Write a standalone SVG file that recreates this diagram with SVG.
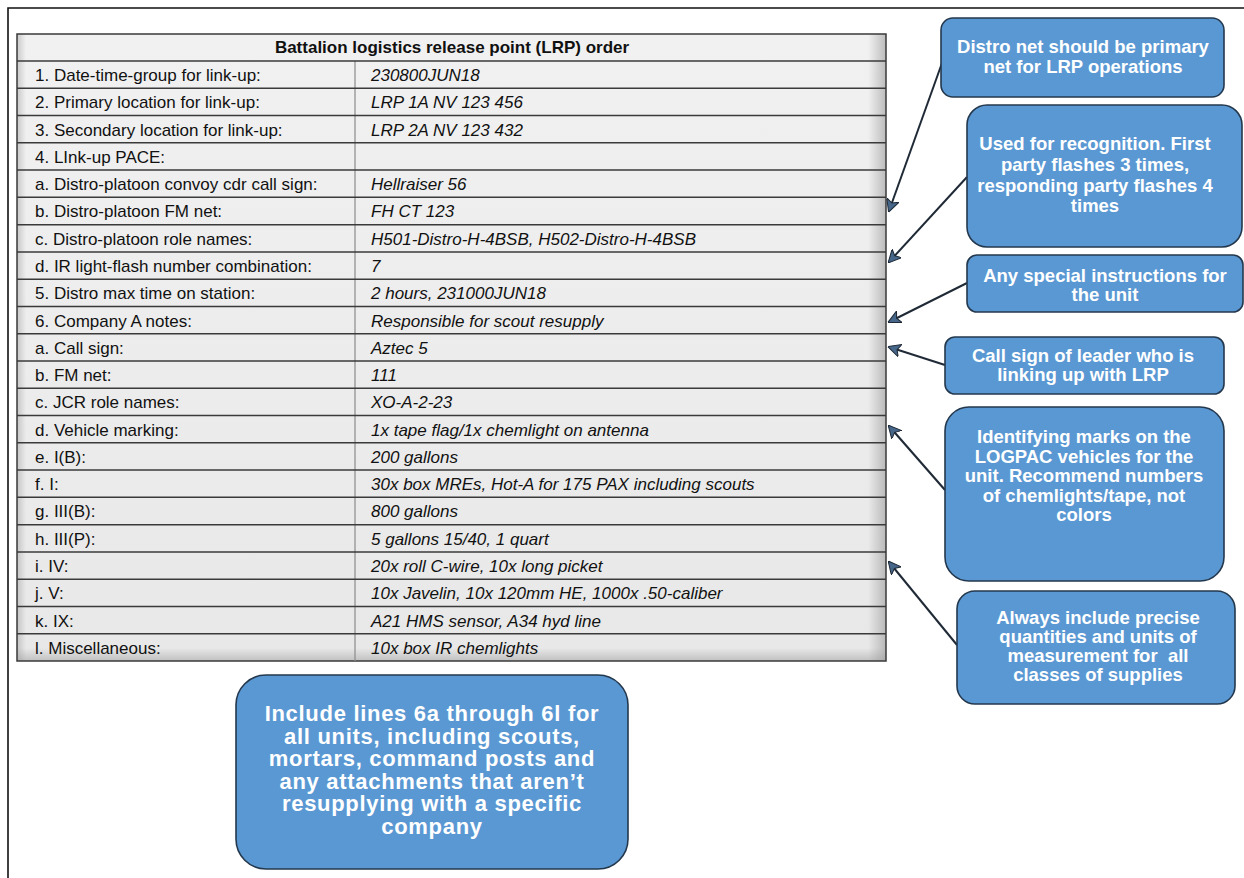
<svg xmlns="http://www.w3.org/2000/svg" width="1244" height="878" viewBox="0 0 1244 878">
<defs>
<style>
.lbl{font-family:"Liberation Sans",Arial,sans-serif;font-size:17px;fill:#111}
.val{font-family:"Liberation Sans",Arial,sans-serif;font-size:17px;font-style:italic;fill:#111}
.hdr{font-family:"Liberation Sans",Arial,sans-serif;font-size:17px;font-weight:bold;fill:#111}
.rl{stroke:#3a3a3a;stroke-width:1.5}
.box{fill:#5a98d3;stroke:#24384d;stroke-width:1.6}
.ct{font-family:"Liberation Sans",Arial,sans-serif;font-size:18.5px;font-weight:bold;fill:#fff;text-anchor:middle}
.bt{font-family:"Liberation Sans",Arial,sans-serif;font-size:22px;letter-spacing:0.7px;font-weight:bold;fill:#fff;text-anchor:middle}
.arr{stroke:#1f2a36;stroke-width:2;fill:none;marker-end:url(#ah)}
</style>
<marker id="ah" viewBox="0 0 10 10" refX="9" refY="5" markerWidth="6.5" markerHeight="6.5" orient="auto" markerUnits="strokeWidth">
<path d="M0,0 L10,5 L0,10 L2.5,5 Z" fill="#46678a" stroke="#1f2a36" stroke-width="0.8"/>
</marker>
<linearGradient id="tg" x1="0" y1="0" x2="0" y2="1">
<stop offset="0" stop-color="#f1f1f1"/>
<stop offset="1" stop-color="#e8e8e8"/>
</linearGradient>
<linearGradient id="sr" x1="0" y1="0" x2="1" y2="0">
<stop offset="0" stop-color="#999" stop-opacity="0"/>
<stop offset="1" stop-color="#999" stop-opacity="0.6"/>
</linearGradient>
<linearGradient id="sl" x1="1" y1="0" x2="0" y2="0">
<stop offset="0" stop-color="#999" stop-opacity="0"/>
<stop offset="1" stop-color="#999" stop-opacity="0.45"/>
</linearGradient>
<linearGradient id="sb" x1="0" y1="0" x2="0" y2="1">
<stop offset="0" stop-color="#999" stop-opacity="0"/>
<stop offset="1" stop-color="#999" stop-opacity="0.5"/>
</linearGradient>
</defs>
<rect width="1244" height="878" fill="#fff"/>
<g id="frame"><path d="M8,878 L8,8 L1244,8" fill="none" stroke="#111" stroke-width="1.6"/></g>
<g id="table">
<rect x="17" y="34" width="869" height="627" fill="url(#tg)"/>
<rect x="868" y="34" width="18" height="627" fill="url(#sr)"/>
<rect x="17" y="34" width="9" height="627" fill="url(#sl)"/>
<rect x="17" y="648" width="869" height="13" fill="url(#sb)"/>
<rect x="17" y="34" width="869" height="627" fill="none" stroke="#3a3a3a" stroke-width="1.5"/>
<line x1="355" y1="61" x2="355" y2="661" stroke="#8a8a8a" stroke-width="1.2"/>
<g class="rl">
<line x1="17" y1="61" x2="886" y2="61"/>
<line x1="17" y1="88.27" x2="886" y2="88.27"/>
<line x1="17" y1="115.55" x2="886" y2="115.55"/>
<line x1="17" y1="142.82" x2="886" y2="142.82"/>
<line x1="17" y1="170.09" x2="886" y2="170.09"/>
<line x1="17" y1="197.36" x2="886" y2="197.36"/>
<line x1="17" y1="224.64" x2="886" y2="224.64"/>
<line x1="17" y1="251.91" x2="886" y2="251.91"/>
<line x1="17" y1="279.18" x2="886" y2="279.18"/>
<line x1="17" y1="306.45" x2="886" y2="306.45"/>
<line x1="17" y1="333.73" x2="886" y2="333.73"/>
<line x1="17" y1="361" x2="886" y2="361"/>
<line x1="17" y1="388.27" x2="886" y2="388.27"/>
<line x1="17" y1="415.55" x2="886" y2="415.55"/>
<line x1="17" y1="442.82" x2="886" y2="442.82"/>
<line x1="17" y1="470.09" x2="886" y2="470.09"/>
<line x1="17" y1="497.36" x2="886" y2="497.36"/>
<line x1="17" y1="524.64" x2="886" y2="524.64"/>
<line x1="17" y1="551.91" x2="886" y2="551.91"/>
<line x1="17" y1="579.18" x2="886" y2="579.18"/>
<line x1="17" y1="606.45" x2="886" y2="606.45"/>
<line x1="17" y1="633.73" x2="886" y2="633.73"/>
</g>
<text class="hdr" x="452" y="53" text-anchor="middle">Battalion logistics release point (LRP) order</text>
<text class="lbl" x="35" y="81">1. Date-time-group for link-up:</text>
<text class="lbl" x="35" y="108.3">2. Primary location for link-up:</text>
<text class="lbl" x="35" y="135.5">3. Secondary location for link-up:</text>
<text class="lbl" x="35" y="162.8">4. LInk-up PACE:</text>
<text class="lbl" x="35" y="190.1">a. Distro-platoon convoy cdr call sign:</text>
<text class="lbl" x="35" y="217.4">b. Distro-platoon FM net:</text>
<text class="lbl" x="35" y="244.6">c. Distro-platoon role names:</text>
<text class="lbl" x="35" y="271.9">d. IR light-flash number combination:</text>
<text class="lbl" x="35" y="299.2">5. Distro max time on station:</text>
<text class="lbl" x="35" y="326.5">6. Company A notes:</text>
<text class="lbl" x="35" y="353.7">a. Call sign:</text>
<text class="lbl" x="35" y="381">b. FM net:</text>
<text class="lbl" x="35" y="408.3">c. JCR role names:</text>
<text class="lbl" x="35" y="435.5">d. Vehicle marking:</text>
<text class="lbl" x="35" y="462.8">e. I(B):</text>
<text class="lbl" x="35" y="490.1">f. I:</text>
<text class="lbl" x="35" y="517.4">g. III(B):</text>
<text class="lbl" x="35" y="544.6">h. III(P):</text>
<text class="lbl" x="35" y="571.9">i. IV:</text>
<text class="lbl" x="35" y="599.2">j. V:</text>
<text class="lbl" x="35" y="626.5">k. IX:</text>
<text class="lbl" x="35" y="653.7">l. Miscellaneous:</text>
<text class="val" x="371" y="81">230800JUN18</text>
<text class="val" x="371" y="108.3">LRP 1A NV 123 456</text>
<text class="val" x="371" y="135.5">LRP 2A NV 123 432</text>
<text class="val" x="371" y="190.1">Hellraiser 56</text>
<text class="val" x="371" y="217.4">FH CT 123</text>
<text class="val" x="371" y="244.6">H501-Distro-H-4BSB, H502-Distro-H-4BSB</text>
<text class="val" x="371" y="271.9">7</text>
<text class="val" x="371" y="299.2">2 hours, 231000JUN18</text>
<text class="val" x="371" y="326.5">Responsible for scout resupply</text>
<text class="val" x="371" y="353.7">Aztec 5</text>
<text class="val" x="371" y="381">111</text>
<text class="val" x="371" y="408.3">XO-A-2-23</text>
<text class="val" x="371" y="435.5">1x tape flag/1x chemlight on antenna</text>
<text class="val" x="371" y="462.8">200 gallons</text>
<text class="val" x="371" y="490.1">30x box MREs, Hot-A for 175 PAX including scouts</text>
<text class="val" x="371" y="517.4">800 gallons</text>
<text class="val" x="371" y="544.6">5 gallons 15/40, 1 quart</text>
<text class="val" x="371" y="571.9">20x roll C-wire, 10x long picket</text>
<text class="val" x="371" y="599.2">10x Javelin, 10x 120mm HE, 1000x .50-caliber</text>
<text class="val" x="371" y="626.5">A21 HMS sensor, A34 hyd line</text>
<text class="val" x="371" y="653.7">10x box IR chemlights</text>
</g>
<g id="connectors">
<line class="arr" x1="942" y1="63" x2="889" y2="211"/>
<line class="arr" x1="967" y1="177" x2="889" y2="262"/>
<line class="arr" x1="967" y1="283" x2="889" y2="322"/>
<line class="arr" x1="945" y1="365" x2="889" y2="347"/>
<line class="arr" x1="945" y1="490" x2="889" y2="426"/>
<line class="arr" x1="957" y1="645" x2="889" y2="562"/>
</g>
<g id="note-distro-net">
<rect class="box" x="941" y="18" width="283" height="79" rx="12"/>
<text class="ct" x="1083" y="53">Distro net should be primary</text>
<text class="ct" x="1083" y="73">net for LRP operations</text>
</g>
<g id="note-recognition">
<rect class="box" x="967" y="105" width="275" height="142" rx="20"/>
<text class="ct" x="1095" y="150">Used for recognition. First</text>
<text class="ct" x="1095" y="171">party flashes 3 times,</text>
<text class="ct" x="1095" y="192">responding party flashes 4</text>
<text class="ct" x="1095" y="212">times</text>
</g>
<g id="note-special">
<rect class="box" x="967" y="255" width="276" height="57" rx="10"/>
<text class="ct" x="1105" y="282">Any special instructions for</text>
<text class="ct" x="1105" y="301">the unit</text>
</g>
<g id="note-callsign">
<rect class="box" x="945" y="337" width="279" height="57" rx="10"/>
<text class="ct" x="1083" y="362">Call sign of leader who is</text>
<text class="ct" x="1083" y="381">linking up with LRP</text>
</g>
<g id="note-marks">
<rect class="box" x="945" y="407" width="279" height="174" rx="24"/>
<text class="ct" x="1084" y="443">Identifying marks on the</text>
<text class="ct" x="1084" y="463">LOGPAC vehicles for the</text>
<text class="ct" x="1084" y="482">unit. Recommend numbers</text>
<text class="ct" x="1084" y="502">of chemlights/tape, not</text>
<text class="ct" x="1084" y="521">colors</text>
</g>
<g id="note-quantities">
<rect class="box" x="957" y="591" width="278" height="113" rx="18"/>
<text class="ct" x="1098" y="624">Always include precise</text>
<text class="ct" x="1098" y="643">quantities and units of</text>
<text class="ct" x="1098" y="662" xml:space="preserve">measurement for  all</text>
<text class="ct" x="1098" y="681">classes of supplies</text>
</g>
<g id="note-lines-6">
<rect class="box" x="236" y="675" width="392" height="194" rx="30"/>
<text class="bt" x="432" y="721">Include lines 6a through 6l for</text>
<text class="bt" x="432" y="743.5">all units, including scouts,</text>
<text class="bt" x="432" y="766">mortars, command posts and</text>
<text class="bt" x="432" y="788.5">any attachments that aren’t</text>
<text class="bt" x="432" y="811">resupplying with a specific</text>
<text class="bt" x="432" y="833.5">company</text>
</g>
</svg>
